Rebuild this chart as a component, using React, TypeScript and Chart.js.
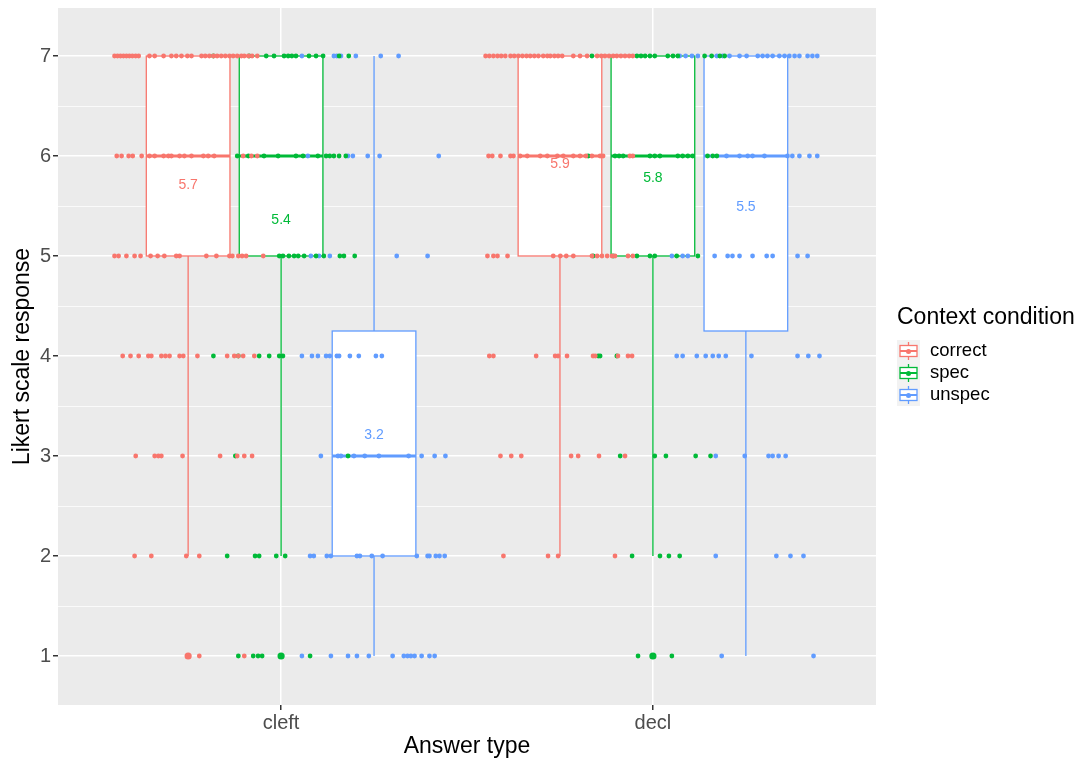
import React, { useEffect, useRef } from 'react';
import { Chart, registerables } from 'chart.js';

Chart.register(...registerables);

const categories = ['cleft', 'decl'];
const conditions = ['correct', 'spec', 'unspec'];
const conditionColors = ['#F8766D', '#00BA38', '#619CFF'];
const dodgeOffsets = [-0.25, 0, 0.25];
const yTickValues = [1, 1.5, 2, 2.5, 3, 3.5, 4, 4.5, 5, 5.5, 6, 6.5, 7];

// [lower whisker, Q1, median, Q3, upper whisker] per category (cleft, decl)
const correctStats = [[2, 5, 6, 7, 7], [2, 5, 6, 7, 7]];
const specStats = [[2, 5, 6, 7, 7], [2, 5, 6, 7, 7]];
const unspecStats = [[1, 2, 3, 4.25, 7], [1, 4.25, 6, 7, 7]];

// mean per category (cleft, decl)
const correctMeans = [5.71, 5.92];
const specMeans = [5.36, 5.78];
const unspecMeans = [3.21, 5.49];

// outliers per category (cleft, decl)
const correctOutliers = [[1], []];
const specOutliers = [[1], [1]];
const unspecOutliers = [[], []];

// jittered responses: index 0 -> response 1, ..., index 6 -> response 7; values are x positions
const correctPoints = [
  [0.780, 0.901],
  [0.606, 0.651, 0.745, 0.780, 1.598, 1.718, 1.745, 1.898],
  [0.609, 0.660, 0.670, 0.678, 0.735, 0.836, 0.882, 0.901, 0.922, 1.590, 1.619, 1.646, 1.780, 1.799, 1.855, 1.925],
  [0.574, 0.595, 0.617, 0.643, 0.651, 0.678, 0.689, 0.700, 0.727, 0.737, 0.775, 0.855, 0.874, 0.885, 0.898, 0.928,
    1.560, 1.571, 1.686, 1.737, 1.745, 1.769, 1.839, 1.845, 1.906, 1.933, 1.944],
  [0.552, 0.563, 0.584, 0.606, 0.622, 0.649, 0.668, 0.686, 0.718, 0.727, 0.799, 0.826, 0.861, 0.869, 0.885, 0.895, 0.906, 0.952,
    1.555, 1.571, 1.582, 1.609, 1.732, 1.751, 1.767, 1.786, 1.836, 1.850, 1.863, 1.877, 1.890, 1.898, 1.933, 1.946],
  [0.558, 0.571, 0.590, 0.601, 0.625, 0.646, 0.660, 0.684, 0.697, 0.705, 0.727, 0.740, 0.759, 0.791, 0.804, 0.820, 0.898, 0.920, 0.936,
    1.558, 1.568, 1.590, 1.617, 1.625, 1.643, 1.662, 1.697, 1.716, 1.743, 1.759, 1.786, 1.804, 1.820, 1.836, 1.858, 1.866, 1.938, 1.946],
  [0.552, 0.560, 0.568, 0.576, 0.584, 0.592, 0.600, 0.609, 0.617, 0.646, 0.660, 0.684, 0.705, 0.718, 0.732, 0.748, 0.759, 0.786,
    0.796, 0.807, 0.818, 0.828, 0.839, 0.850, 0.861, 0.871, 0.882, 0.893, 0.901, 0.912, 0.922, 0.936,
    1.550, 1.560, 1.571, 1.582, 1.592, 1.603, 1.617, 1.627, 1.638, 1.649, 1.660, 1.670, 1.681, 1.692, 1.705, 1.716, 1.724, 1.735,
    1.745, 1.756, 1.786, 1.804, 1.823, 1.850, 1.861, 1.871, 1.882, 1.893, 1.903, 1.914, 1.925, 1.936, 1.946],
];

const specPoints = [
  [0.885, 0.925, 0.938, 0.949, 1.078, 1.960, 2.051],
  [0.855, 0.930, 0.941, 0.987, 1.011, 1.944, 2.019, 2.043, 2.072],
  [0.877, 1.180, 1.912, 2.005, 2.035, 2.115, 2.155],
  [0.818, 0.885, 0.941, 0.968, 0.995, 1.005, 1.853, 1.858, 1.903],
  [0.995, 1.005, 1.021, 1.035, 1.046, 1.062, 1.094, 1.115, 1.158, 1.169, 1.198, 1.839, 1.893, 1.957, 1.992, 2.005, 2.064, 2.121],
  [0.882, 0.912, 0.954, 0.992, 1.040, 1.059, 1.099, 1.121, 1.131, 1.142, 1.156, 1.174,
    1.826, 1.898, 1.909, 1.920, 1.992, 2.005, 2.019, 2.067, 2.080, 2.094, 2.107, 2.147, 2.161, 2.172],
  [0.818, 0.914, 0.960, 0.981, 1.008, 1.019, 1.029, 1.040, 1.075, 1.094, 1.113, 1.156, 1.182,
    1.836, 1.957, 1.968, 1.979, 1.992, 2.005, 2.040, 2.054, 2.067, 2.139, 2.158, 2.180, 2.193],
];

const unspecPoints = [
  [1.056, 1.134, 1.180, 1.204, 1.236, 1.300, 1.330, 1.340, 1.349, 1.359, 1.378, 1.399, 1.413, 2.185, 2.432],
  [1.078, 1.088, 1.123, 1.134, 1.204, 1.212, 1.244, 1.273, 1.365, 1.394, 1.399, 1.416, 1.426, 1.440, 2.169, 2.332, 2.370, 2.405],
  [1.107, 1.153, 1.161, 1.196, 1.225, 1.263, 1.343, 1.378, 1.413, 1.442, 2.169, 2.247, 2.311, 2.322, 2.338, 2.357],
  [1.056, 1.083, 1.099, 1.121, 1.131, 1.150, 1.156, 1.185, 1.209, 1.255, 1.271,
    2.064, 2.080, 2.118, 2.142, 2.161, 2.177, 2.196, 2.265, 2.389, 2.418, 2.448],
  [1.080, 1.102, 1.131, 1.311, 1.394, 2.051, 2.080, 2.094, 2.166, 2.201, 2.214, 2.233, 2.268, 2.306, 2.322, 2.389, 2.416],
  [1.072, 1.180, 1.193, 1.233, 1.265, 1.424, 2.198, 2.233, 2.255, 2.268, 2.300, 2.362, 2.375, 2.394, 2.421, 2.442],
  [1.056, 1.142, 1.150, 1.161, 1.201, 1.268, 1.316,
    2.072, 2.088, 2.105, 2.121, 2.172, 2.188, 2.206, 2.233, 2.252, 2.282, 2.295, 2.308, 2.322, 2.340, 2.354, 2.367, 2.381,
    2.394, 2.416, 2.429, 2.442],
];

const allStats = [correctStats, specStats, unspecStats];
const allMeans = [correctMeans, specMeans, unspecMeans];
const allOutliers = [correctOutliers, specOutliers, unspecOutliers];
const allPoints = [correctPoints, specPoints, unspecPoints];

const FONT = "'Liberation Sans', Arial, Helvetica, sans-serif";
const BOX_WIDTH = 0.225;

const boxPlugin = {
  id: 'ggBoxes',
  beforeDraw(chart: any) {
    const { ctx, chartArea } = chart;
    ctx.save();
    ctx.fillStyle = '#EBEBEB';
    ctx.fillRect(chartArea.left, chartArea.top, chartArea.right - chartArea.left, chartArea.bottom - chartArea.top);
    ctx.restore();
  },
  beforeDatasetsDraw(chart: any) {
    const { ctx, chartArea, scales } = chart;
    const xs = scales.x;
    const ys = scales.y;
    ctx.save();
    ctx.beginPath();
    ctx.rect(chartArea.left, chartArea.top, chartArea.right - chartArea.left, chartArea.bottom - chartArea.top);
    ctx.clip();
    allStats.forEach((stats, k) => {
      const color = conditionColors[k];
      stats.forEach((s, i) => {
        const [lo, q1, med, q3, hi] = s;
        const xc = i + 1 + dodgeOffsets[k];
        const px = xs.getPixelForValue(xc);
        const xl = xs.getPixelForValue(xc - BOX_WIDTH / 2);
        const xr = xs.getPixelForValue(xc + BOX_WIDTH / 2);
        ctx.strokeStyle = color;
        ctx.lineWidth = 1.3;
        ctx.beginPath();
        ctx.moveTo(px, ys.getPixelForValue(q1));
        ctx.lineTo(px, ys.getPixelForValue(lo));
        ctx.moveTo(px, ys.getPixelForValue(q3));
        ctx.lineTo(px, ys.getPixelForValue(hi));
        ctx.stroke();
        const yt = ys.getPixelForValue(q3);
        const yb = ys.getPixelForValue(q1);
        ctx.fillStyle = '#FFFFFF';
        ctx.fillRect(xl, yt, xr - xl, yb - yt);
        ctx.strokeRect(xl, yt, xr - xl, yb - yt);
        ctx.lineWidth = 2.8;
        ctx.beginPath();
        ctx.moveTo(xl, ys.getPixelForValue(med));
        ctx.lineTo(xr, ys.getPixelForValue(med));
        ctx.stroke();
      });
    });
    ctx.restore();
  },
  afterDatasetsDraw(chart: any) {
    const { ctx, scales } = chart;
    ctx.save();
    ctx.font = `14px ${FONT}`;
    ctx.textAlign = 'center';
    ctx.textBaseline = 'middle';
    allMeans.forEach((means, k) => {
      ctx.fillStyle = conditionColors[k];
      means.forEach((m, i) => {
        const xc = i + 1 + dodgeOffsets[k];
        ctx.fillText(m.toFixed(1), scales.x.getPixelForValue(xc), scales.y.getPixelForValue(m));
      });
    });
    ctx.restore();
  },
  afterDraw(chart: any) {
    const { ctx, chartArea } = chart;
    const lx = chartArea.right + 21;
    ctx.save();
    ctx.fillStyle = '#000000';
    ctx.font = `23px ${FONT}`;
    ctx.textAlign = 'left';
    ctx.textBaseline = 'middle';
    ctx.fillText('Context condition', lx, 318);
    conditions.forEach((name, k) => {
      const cy = 351 + 22 * k;
      const color = conditionColors[k];
      ctx.fillStyle = '#F2F2F2';
      ctx.fillRect(lx, cy - 11, 23, 22);
      const cx = lx + 11.5;
      ctx.strokeStyle = color;
      ctx.lineWidth = 1.3;
      ctx.beginPath();
      ctx.moveTo(cx, cy - 9);
      ctx.lineTo(cx, cy - 5.5);
      ctx.moveTo(cx, cy + 5.5);
      ctx.lineTo(cx, cy + 9);
      ctx.stroke();
      ctx.fillStyle = '#FFFFFF';
      ctx.fillRect(cx - 8.5, cy - 5.5, 17, 11);
      ctx.strokeRect(cx - 8.5, cy - 5.5, 17, 11);
      ctx.lineWidth = 2;
      ctx.beginPath();
      ctx.moveTo(cx - 8.5, cy);
      ctx.lineTo(cx + 8.5, cy);
      ctx.stroke();
      ctx.fillStyle = color;
      ctx.beginPath();
      ctx.arc(cx, cy + 0.5, 2.5, 0, Math.PI * 2);
      ctx.fill();
      ctx.fillStyle = '#000000';
      ctx.font = `18.5px ${FONT}`;
      ctx.fillText(name, lx + 33, cy);
    });
    ctx.restore();
  },
};

export default function App() {
  const canvasRef = useRef<HTMLCanvasElement | null>(null);

  useEffect(() => {
    if (!canvasRef.current) return;
    Chart.defaults.font.family = FONT;

    const pointSets = allPoints.map((levels, k) => ({
      label: conditions[k],
      data: levels.flatMap((xsArr, i) => xsArr.map((x) => ({ x, y: i + 1 }))),
      backgroundColor: conditionColors[k],
      borderWidth: 0,
      pointRadius: 2.4,
      order: 1,
    }));
    const outlierSets = allOutliers.map((cats, k) => ({
      label: conditions[k] + ' outliers',
      data: cats.flatMap((vals, i) => vals.map((v) => ({ x: i + 1 + dodgeOffsets[k], y: v }))),
      backgroundColor: conditionColors[k],
      borderWidth: 0,
      pointRadius: 3.6,
      order: 0,
    }));

    const chart = new Chart(canvasRef.current, {
      type: 'scatter',
      data: { datasets: [...pointSets, ...outlierSets] as any },
      plugins: [boxPlugin as any],
      options: {
        animation: false,
        responsive: false,
        maintainAspectRatio: false,
        events: [],
        layout: { padding: { top: 8, right: 201, left: 0, bottom: 0 } },
        plugins: {
          legend: { display: false },
          tooltip: { enabled: false },
        },
        scales: {
          x: {
            type: 'linear',
            min: 0.4,
            max: 2.6,
            afterBuildTicks: (s: any) => {
              s.ticks = categories.map((_, i) => ({ value: i + 1 }));
            },
            afterFit: (s: any) => {
              s.height = 55;
              s.paddingLeft = 0;
              s.paddingRight = 0;
            },
            ticks: {
              callback: (v: any) => categories[Math.round(Number(v)) - 1] ?? '',
              color: '#4D4D4D',
              font: { size: 20, family: FONT },
              padding: 1,
              autoSkip: false,
              maxRotation: 0,
            },
            grid: {
              color: '#FFFFFF',
              lineWidth: 1.5,
              tickColor: '#333333',
              tickLength: 5,
              drawTicks: true,
            },
            border: { display: false },
            title: {
              display: true,
              text: 'Answer type',
              color: '#000000',
              font: { size: 23, family: FONT },
              padding: { top: 0, bottom: 0 },
            },
          },
          y: {
            type: 'linear',
            min: 0.51,
            max: 7.48,
            afterBuildTicks: (s: any) => {
              s.ticks = yTickValues.map((v) => ({ value: v }));
            },
            afterFit: (s: any) => {
              s.width = 58;
              s.paddingTop = 0;
              s.paddingBottom = 0;
            },
            ticks: {
              callback: (v: any) => (Number.isInteger(Number(v)) ? String(v) : ''),
              color: '#4D4D4D',
              font: { size: 20, family: FONT },
              padding: 2,
              autoSkip: false,
            },
            grid: {
              color: '#FFFFFF',
              lineWidth: (c: any) => (Number.isInteger(c.tick?.value) ? 1.5 : 0.75),
              tickColor: (c: any) => (Number.isInteger(c.tick?.value) ? '#333333' : 'rgba(0,0,0,0)'),
              tickLength: 5,
              drawTicks: true,
            },
            border: { display: false },
            title: {
              display: true,
              text: 'Likert scale response',
              color: '#000000',
              font: { size: 23, family: FONT },
              padding: { top: 9, bottom: 0 },
            },
          },
        },
      } as any,
    });

    return () => chart.destroy();
  }, []);

  return (
    <canvas
      ref={canvasRef}
      width={1077}
      height={760}
      style={{ position: 'absolute', left: 0, top: 0, display: 'block' }}
    />
  );
}
